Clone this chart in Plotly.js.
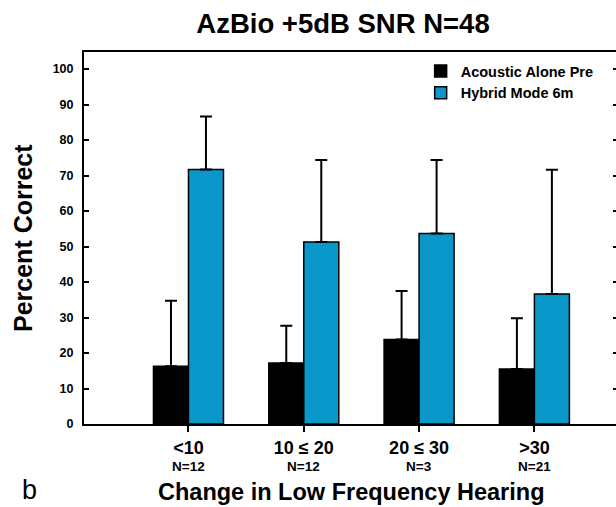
<!DOCTYPE html>
<html>
<head>
<meta charset="utf-8">
<script src="https://cdn.plot.ly/plotly-3.0.1.min.js"></script>
<style>
html, body { margin: 0; padding: 0; overflow: hidden; background: #fff; }
#chart { width: 620px; height: 507px; }
</style>
</head>
<body>
<div id="chart"></div>
<script>
const categories = ['<10', '10 ≤ 20', '20 ≤ 30', '>30'];
const nLabels = ['N=12', 'N=12', 'N=3', 'N=21'];
const acousticPre = [16.3, 17.2, 23.8, 15.5];
const acousticPreErr = [18.4, 10.5, 13.7, 14.3];
const hybrid6m = [71.7, 51.3, 53.7, 36.6];
const hybrid6mErr = [14.9, 23.1, 20.7, 35.0];
const yTicks = [0, 10, 20, 30, 40, 50, 60, 70, 80, 90, 100];
const xTitle = 'Change in Low Frequency Hearing';
const yTitle = 'Percent Correct';
const panelLabel = 'b';

const FONT = 'Liberation Sans, Arial, sans-serif';
const zeros = categories.map(() => 0);

// plot area in pixels: left 84, right 618, top 52, bottom 424
const PX = v => (v - 84) / 534;
const PY = v => (424 - v) / 372;

const traces = [
  {
    type: 'bar', name: 'Acoustic Alone Pre', x: categories, y: acousticPre,
    marker: { color: '#000000', line: { color: '#000000', width: 1.5 } },
    error_y: { type: 'data', symmetric: false, array: acousticPreErr, arrayminus: zeros,
               color: '#000000', thickness: 2, width: 6 }
  },
  {
    type: 'bar', name: 'Hybrid Mode 6m', x: categories, y: hybrid6m,
    marker: { color: '#0a97c9', line: { color: '#000000', width: 1.5 } },
    error_y: { type: 'data', symmetric: false, array: hybrid6mErr, arrayminus: zeros,
               color: '#000000', thickness: 2, width: 6 }
  }
];

const annotations = categories.map((c, i) => ({
  x: c, xref: 'x', y: PY(467), yref: 'paper', text: nLabels[i], showarrow: false,
  xanchor: 'center', yanchor: 'middle', font: { family: FONT, size: 13.5, color: '#000', weight: 'bold' }
}));
annotations.push({
  x: PX(351), xref: 'paper', y: PY(492), yref: 'paper', text: xTitle, showarrow: false,
  xanchor: 'center', yanchor: 'middle', font: { family: FONT, size: 23.5, color: '#000', weight: 'bold' }
});
annotations.push({
  x: PX(23), xref: 'paper', y: PY(238), yref: 'paper', text: yTitle, showarrow: false, textangle: -90,
  xanchor: 'center', yanchor: 'middle', font: { family: FONT, size: 25, color: '#000', weight: 'bold' }
});
annotations.push({
  x: PX(20), xref: 'paper', y: PY(490), yref: 'paper', text: panelLabel, showarrow: false,
  xanchor: 'left', yanchor: 'middle', font: { family: FONT, size: 27, color: '#000' }
});

const layout = {
  width: 620, height: 507,
  margin: { l: 84, r: 2, t: 52, b: 83 },
  paper_bgcolor: '#ffffff', plot_bgcolor: '#ffffff',
  barmode: 'group', bargap: 0.393, bargroupgap: 0,
  showlegend: true,
  title: { text: 'AzBio +5dB SNR N=48', xref: 'container', x: 343 / 620, xanchor: 'center',
           yref: 'container', y: 1 - 23 / 507, yanchor: 'middle',
           font: { family: FONT, size: 27.5, color: '#000', weight: 'bold' } },
  legend: { x: PX(426) - 0.01, y: PY(55), xanchor: 'left', yanchor: 'top',
            bgcolor: 'rgba(0,0,0,0)', font: { family: FONT, size: 14.5, color: '#000', weight: 'bold' },
            traceorder: 'normal' },
  xaxis: {
    type: 'category', range: [-0.906, 3.725],
    showline: true, linecolor: '#000', linewidth: 2, mirror: true,
    ticks: 'outside', ticklen: 6, tickwidth: 2, tickcolor: '#000',
    showgrid: false, zeroline: false,
    ticklabelstandoff: 0,
    tickfont: { family: FONT, size: 18, color: '#000', weight: 'bold' }
  },
  yaxis: {
    range: [0, 104.8], tickvals: yTicks, ticktext: yTicks.map(String),
    showline: true, linecolor: '#000', linewidth: 2, mirror: 'ticks',
    ticks: 'inside', ticklen: 5, tickwidth: 2, tickcolor: '#000',
    showgrid: false, zeroline: false,
    ticklabelstandoff: 6,
    tickfont: { family: FONT, size: 12.5, color: '#000', weight: 'bold' }
  },
  annotations: annotations
};

Plotly.newPlot('chart', traces, layout, { displayModeBar: false, staticPlot: true });
</script>
</body>
</html>
